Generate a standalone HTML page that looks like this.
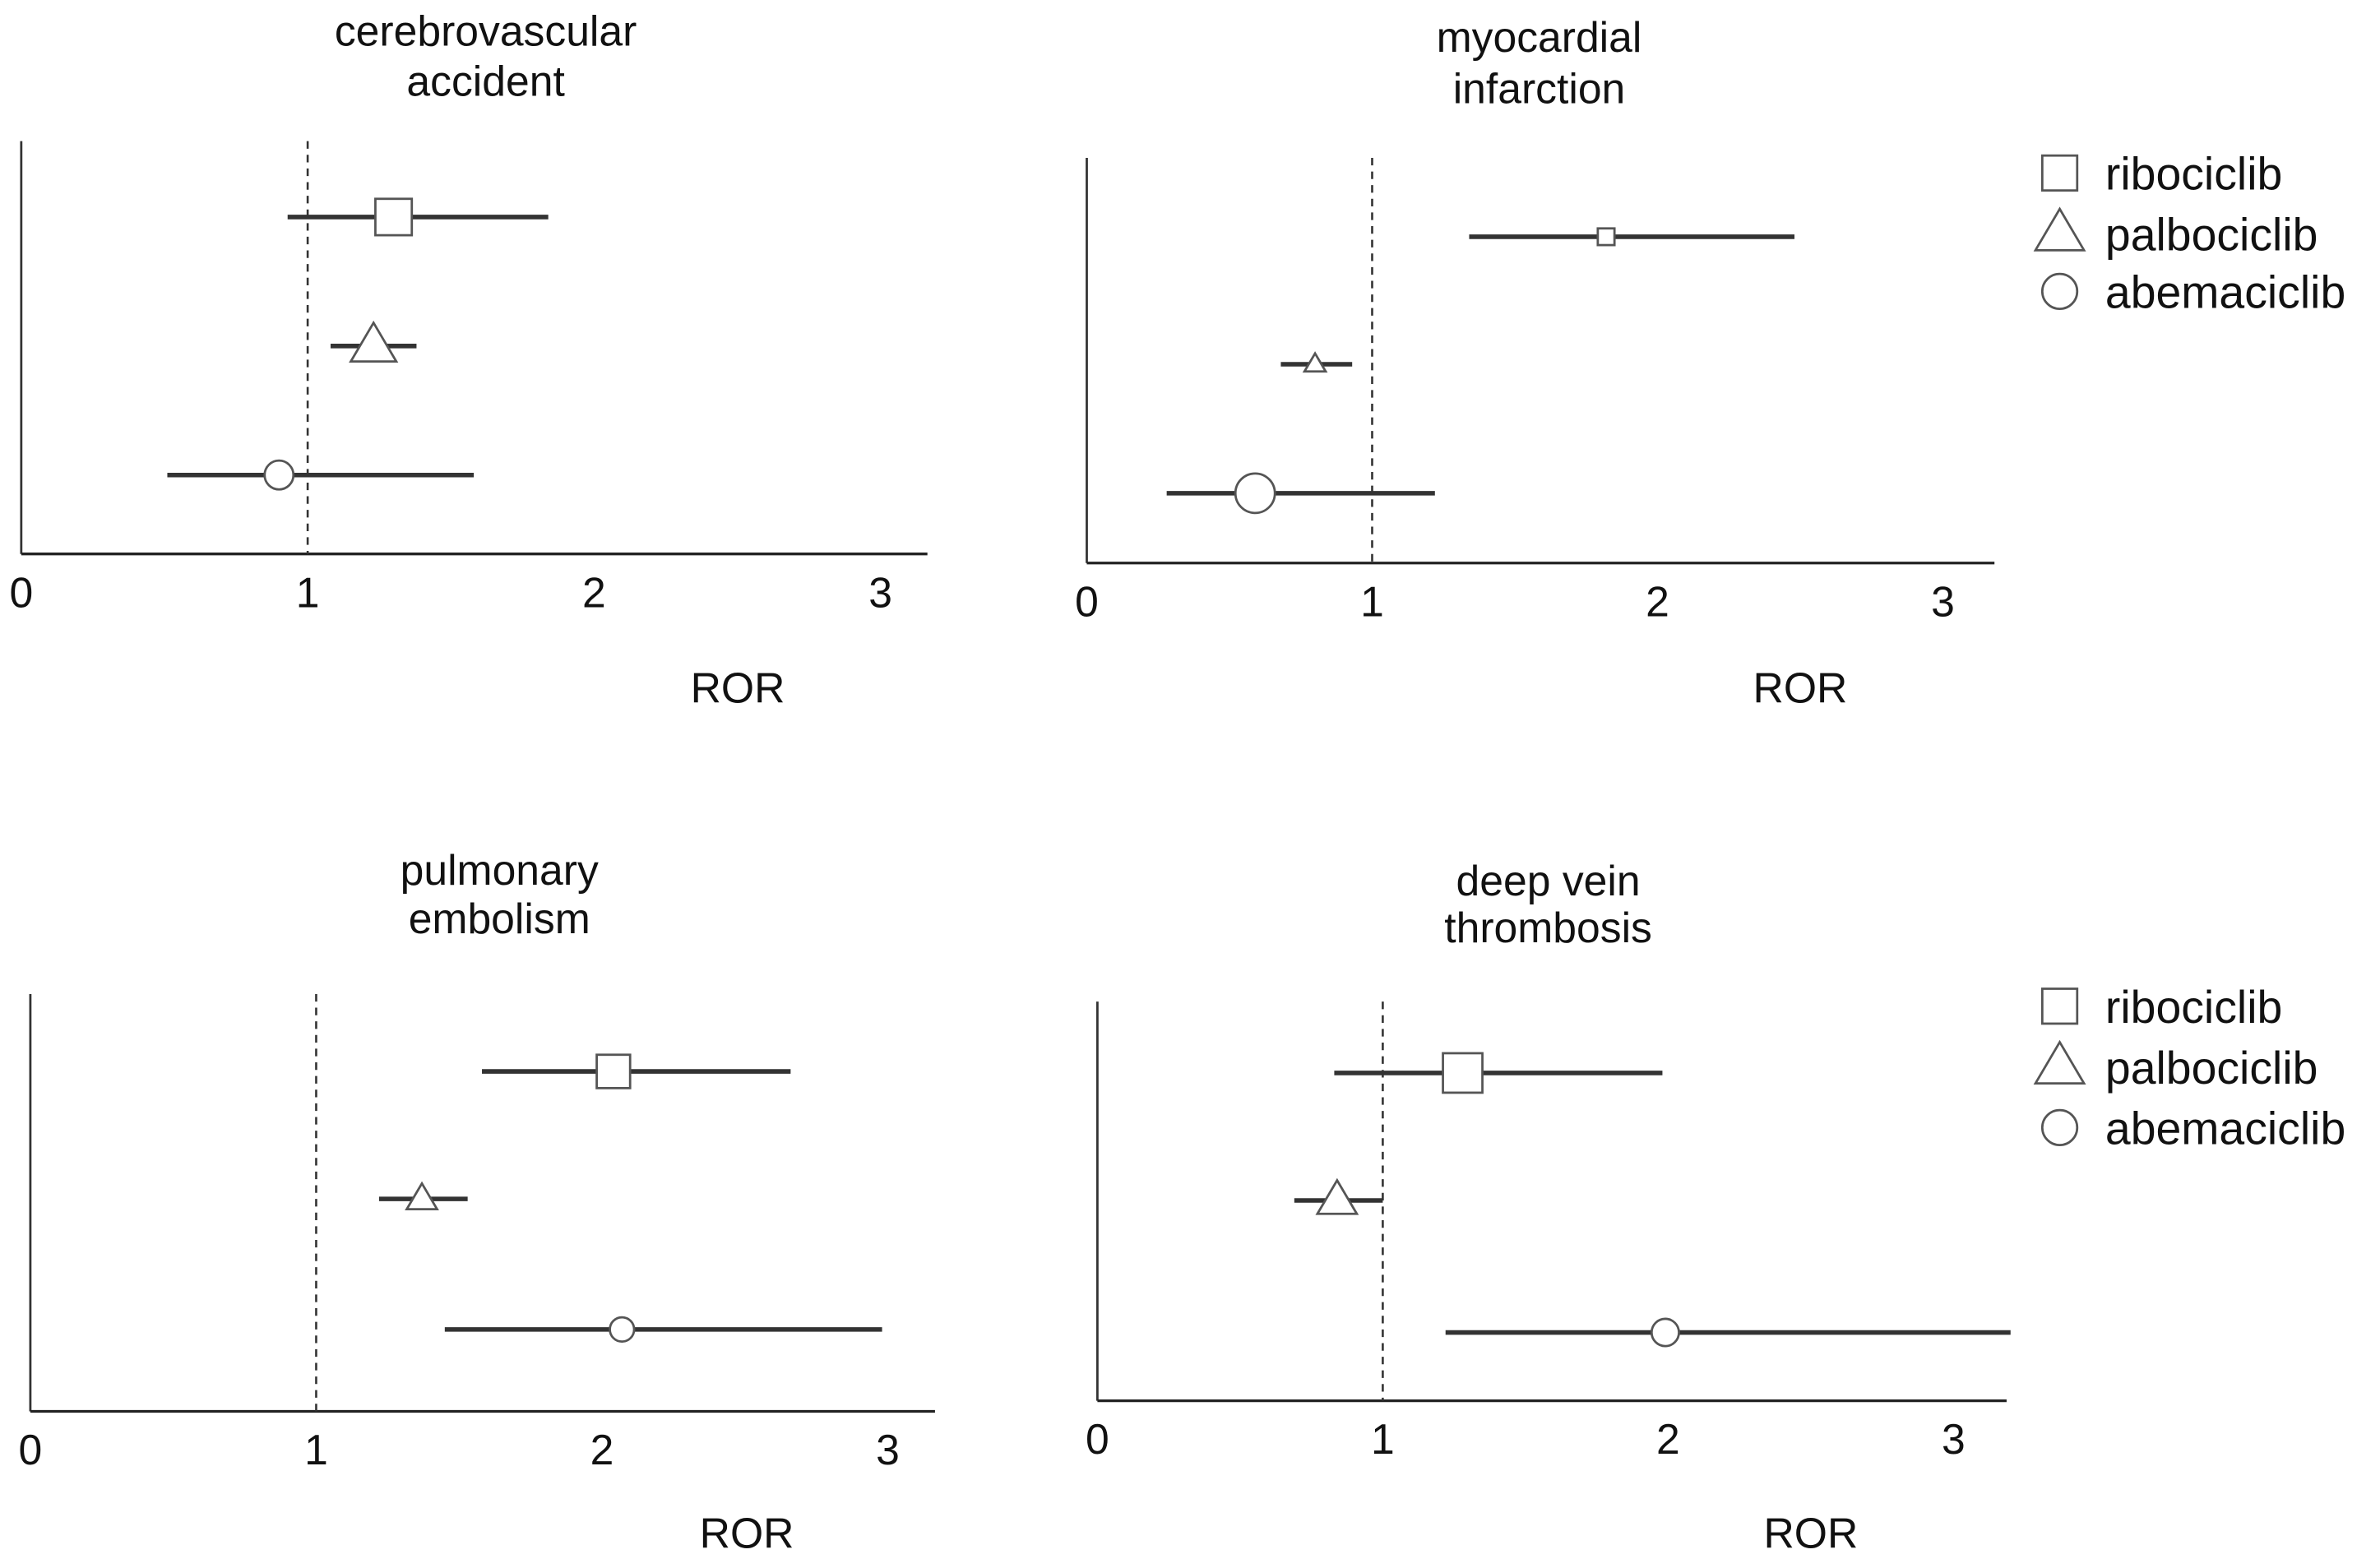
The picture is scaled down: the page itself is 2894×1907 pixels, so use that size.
<!DOCTYPE html>
<html><head><meta charset="utf-8"><style>
html,body{margin:0;padding:0;background:#fff;}
svg{display:block;}
text{font-family:"Liberation Sans",sans-serif;fill:#111;}
</style></head><body>
<svg id="chart" width="2894" height="1907" viewBox="0 0 1568 1033.2" preserveAspectRatio="none" xmlns="http://www.w3.org/2000/svg"></svg>
<script>
const drugs = ["ribociclib","palbociclib","abemaciclib"];
const shapes = ["square","triangle","circle"];
const panelTitles = [["cerebrovascular","accident"],["myocardial","infarction"],["pulmonary","embolism"],["deep vein","thrombosis"]];
const tickLabels = ["0","1","2","3"];
const estCVA = [1.30,1.23,0.90];
const loCVA = [0.93,1.08,0.51];
const hiCVA = [1.84,1.38,1.58];
const estMI = [1.82,0.80,0.59];
const loMI = [1.34,0.68,0.28];
const hiMI = [2.48,0.93,1.22];
const estPE = [2.04,1.37,2.07];
const loPE = [1.58,1.22,1.45];
const hiPE = [2.66,1.53,2.98];
const estDVT = [1.28,0.84,1.99];
const loDVT = [0.83,0.69,1.22];
const hiDVT = [1.98,1.00,3.20];

const NS="http://www.w3.org/2000/svg";
const svg=document.getElementById('chart');
function mk(tag,attrs,parent){const e=document.createElementNS(NS,tag);for(const k in attrs)e.setAttribute(k,attrs[k]);(parent||svg).appendChild(e);return e;}

const layouts=[
 {x0:14,unit:188.7,top:93,bottom:365,right:611,tx:320,ty:[20,53],rory:453,rorx:486,rows:[143,228,313],sizes:[24,30,19],est:estCVA,lo:loCVA,hi:hiCVA},
 {x0:716,unit:188,top:104,bottom:371,right:1314,tx:1014,ty:[24,58],rory:453,rorx:1186,rows:[156,240,325],sizes:[11,14,26],est:estMI,lo:loMI,hi:hiMI},
 {x0:20,unit:188.3,top:655,bottom:930,right:616,tx:329,ty:[573,605],rory:1010,rorx:492,rows:[706,790,876],sizes:[22,20,16],est:estPE,lo:loPE,hi:hiPE},
 {x0:723,unit:188,top:660,bottom:923,right:1322,tx:1020,ty:[580,611],rory:1010,rorx:1193,rows:[707,791,878],sizes:[26,26,18],est:estDVT,lo:loDVT,hi:hiDVT}
];

function marker(g,shape,cx,cy,s){
  let m;
  if(shape==="square") m=mk('rect',{x:cx-s/2,y:cy-s/2,width:s,height:s,fill:'#fff',stroke:'#555','stroke-width':1.5},g);
  else if(shape==="triangle"){const h=s*0.85;m=mk('polygon',{points:`${cx},${cy-h*0.6} ${cx-s/2},${cy+h*0.4} ${cx+s/2},${cy+h*0.4}`,fill:'#fff',stroke:'#555','stroke-width':1.5},g);}
  else m=mk('circle',{cx:cx,cy:cy,r:s/2,fill:'#fff',stroke:'#555','stroke-width':1.5},g);
  return m;
}

layouts.forEach((L,pi)=>{
  const g=mk('g',{});
  
  
  const xs=v=>L.x0+v*L.unit;
  panelTitles[pi].forEach((t,i)=>{
    const tt=mk('text',{x:L.tx,y:L.ty[i]+10,'text-anchor':'middle','font-size':28},g);tt.textContent=t;
    
    
  });
  const ya=mk('line',{x1:L.x0,y1:L.top,x2:L.x0,y2:L.bottom,stroke:'#333','stroke-width':1.5},g);
  
  
  const xa=mk('line',{x1:L.x0,y1:L.bottom,x2:L.right,y2:L.bottom,stroke:'#222','stroke-width':1.8},g);
  
  
  const ref=mk('line',{x1:xs(1),y1:L.top,x2:xs(1),y2:L.bottom,stroke:'#333','stroke-width':1.4,'stroke-dasharray':'5,4'},g);
  
  
  tickLabels.forEach((t,i)=>{
    const tl=mk('text',{x:xs(i),y:L.bottom+35,'text-anchor':'middle','font-size':28},g);tl.textContent=t;
    
    
  });
  const rl=mk('text',{x:L.rorx,y:L.rory+10,'text-anchor':'middle','font-size':28},g);rl.textContent='ROR';
  
  
  drugs.forEach((d,i)=>{
    const y=L.rows[i];
    const ci=mk('line',{x1:xs(L.lo[i]),y1:y,x2:xs(L.hi[i]),y2:y,stroke:'#333','stroke-width':3},g);
    
    
    const m=marker(g,shapes[i],xs(L.est[i]),y,L.sizes[i]);
    
    
  });
});

[[114,154,192],[663,703,743]].forEach((ys,li)=>{
  const g=mk('g',{});
  
  
  drugs.forEach((d,i)=>{
    const m=marker(g,shapes[i],1357,ys[i],i===1?32:23);
    
    
    const t=mk('text',{x:1387,y:ys[i]+11,'font-size':30},g);t.textContent=d;
    
    
  });
});
</script>
</body></html>
